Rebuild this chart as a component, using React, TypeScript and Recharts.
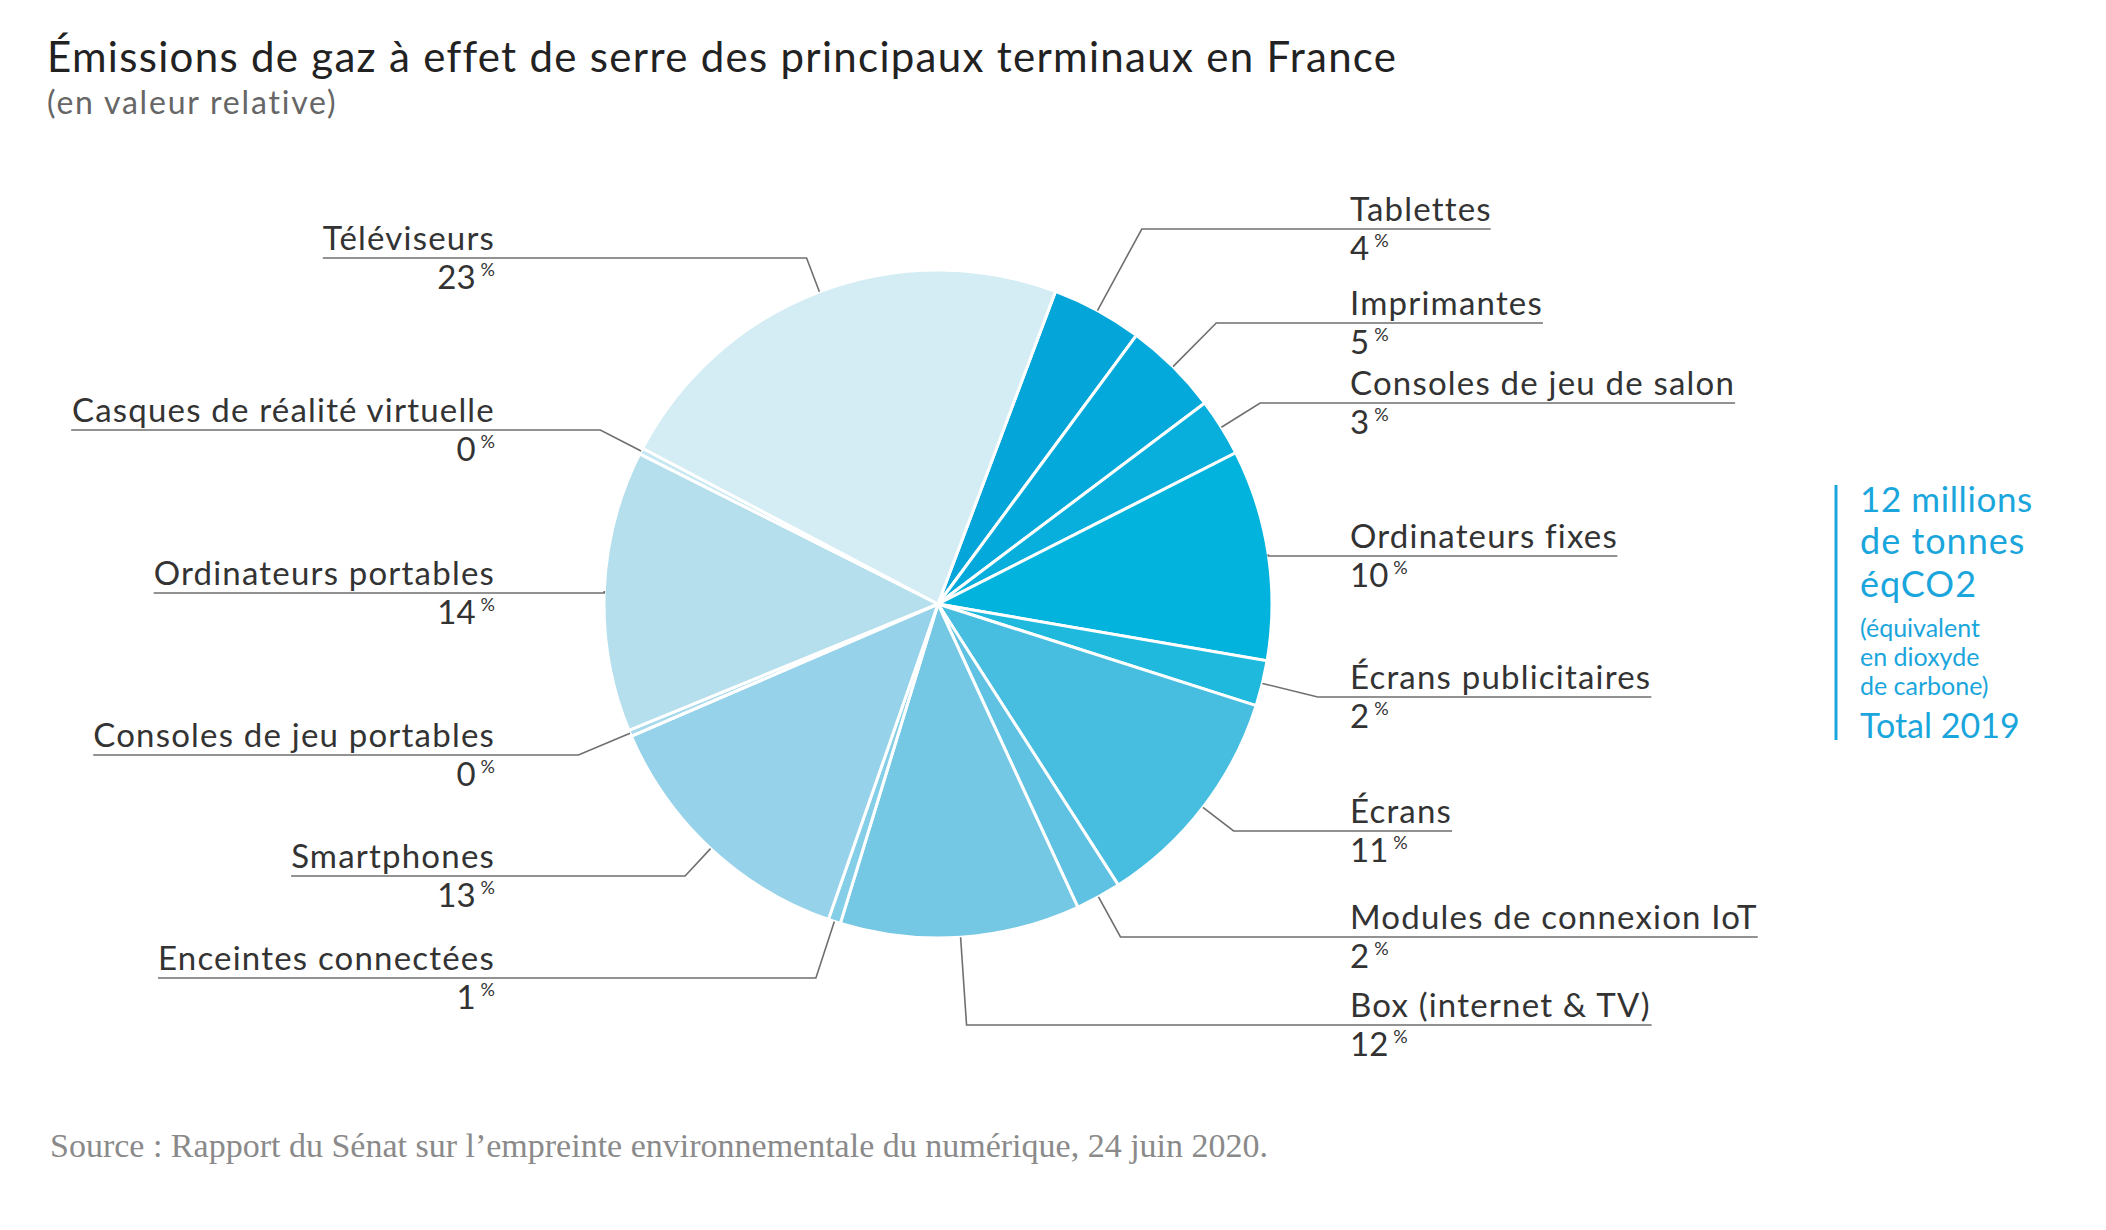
import React from 'react';
import { PieChart, Pie, Cell } from 'recharts';

// Émissions de GES des principaux terminaux (part en %)
const CATEGORIES = [
  'Tablettes',
  'Imprimantes',
  'Consoles de jeu de salon',
  'Ordinateurs fixes',
  'Écrans publicitaires',
  'Écrans',
  'Modules de connexion IoT',
  'Box (internet & TV)',
  'Enceintes connectées',
  'Smartphones',
  'Consoles de jeu portables',
  'Ordinateurs portables',
  'Casques de réalité virtuelle',
  'Téléviseurs',
];
const SHARES = [4.4, 4.6, 2.8, 10.2, 2.2, 11.0, 2.2, 11.6, 0.6, 13.2, 0.3, 13.6, 0.3, 23.0];
const COLORS = [
  '#04a5d8', '#03a9da', '#08afdc', '#02b4dd', '#1fb9de', '#47bde0', '#60c2e2',
  '#74c8e4', '#85cee7', '#96d2e9', '#a6d9ec', '#b5dfec', '#c5e7f1', '#d4edf4',
];

// position verticale du trait de chaque étiquette
const LABEL_Y = [229, 323, 403, 556, 697, 831, 937, 1025, 978, 876, 755, 593, 430, 258];

const W = 2106;
const H = 1230;
const CX = 938;
const CY = 604;
const R = 334;
const RIGHT_X = 1350;
const LEFT_X = 495;
const FONT = 'Lato, "Open Sans", sans-serif';
const LABEL_SIZE = 33;
const LABEL_LS = 1.2;
const RAD = Math.PI / 180;

const data = CATEGORIES.map((name, i) => ({ name, value: SHARES[i] }));

let ctx: CanvasRenderingContext2D | null = null;
const textWidth = (t: string) => {
  if (!ctx) ctx = document.createElement('canvas').getContext('2d');
  if (!ctx) return t.length * LABEL_SIZE * 0.55;
  ctx.font = `${LABEL_SIZE}px Lato`;
  return ctx.measureText(t).width + t.length * LABEL_LS;
};

const renderLabel = (props: any) => {
  const { cx, cy, midAngle, outerRadius, index } = props;
  const name = CATEGORIES[index];
  const pct = Math.round(SHARES[index]);
  const dx = Math.cos(-midAngle * RAD);
  const dy = Math.sin(-midAngle * RAD);
  const px = cx + outerRadius * dx;
  const py = cy + outerRadius * dy;
  const ly = LABEL_Y[index];
  let t = Math.abs(dy) > 0.05 ? (ly - py) / dy : 0;
  if (t < 0) t = 0;
  const ex = px + t * dx;
  const right = dx > 0;
  const tw = textWidth(name);
  const lineEnd = right ? RIGHT_X + tw : LEFT_X - tw;
  const tx = right ? RIGHT_X : LEFT_X;
  const anchor = right ? 'start' : 'end';
  return (
    <g key={`lbl-${index}`}>
      <polyline
        points={`${px},${py} ${ex},${ly} ${lineEnd},${ly}`}
        fill="none"
        stroke="#6f6f6f"
        strokeWidth={1.6}
      />
      <text x={tx} y={ly - 8} textAnchor={anchor} fontFamily={FONT} fontSize={LABEL_SIZE}
        letterSpacing={LABEL_LS} fill="#333">
        {name}
      </text>
      <text x={tx} y={ly + 31} textAnchor={anchor} fontFamily={FONT} fontSize={LABEL_SIZE} fill="#333">
        <tspan>{pct}</tspan>
        <tspan dx={5} dy={-13} fontSize={18}>%</tspan>
      </text>
    </g>
  );
};

export default function App() {
  const blue = '#1aa6dc';
  return (
    <div style={{ position: 'absolute', left: 0, top: 0, width: W, height: H, background: '#fff' }}>
      <PieChart width={W} height={H} margin={{ top: 0, right: 0, bottom: 0, left: 0 }}>
        <Pie
          data={data}
          dataKey="value"
          nameKey="name"
          cx={CX}
          cy={CY}
          outerRadius={R}
          startAngle={69.4}
          endAngle={-290.6}
          stroke="#fff"
          strokeWidth={3}
          label={renderLabel}
          labelLine={false}
          isAnimationActive={false}
        >
          {data.map((_, i) => (
            <Cell key={i} fill={COLORS[i]} />
          ))}
        </Pie>
      </PieChart>
      <svg width={W} height={H} style={{ position: 'absolute', left: 0, top: 0, pointerEvents: 'none' }}>
        <text x={47} y={72} fontFamily={FONT} fontSize={42} letterSpacing={1.3} fill="#222">
          Émissions de gaz à effet de serre des principaux terminaux en France
        </text>
        <text x={47} y={114} fontFamily={FONT} fontSize={32} letterSpacing={1.8} fill="#666">
          (en valeur relative)
        </text>
        <line x1={1836} y1={485} x2={1836} y2={740} stroke={blue} strokeWidth={3} />
        <g fontFamily={FONT} fill={blue}>
          <text x={1860} y={512} fontSize={35} letterSpacing={0.6}>12 millions</text>
          <text x={1860} y={554} fontSize={36} letterSpacing={1}>de tonnes</text>
          <text x={1860} y={597} fontSize={36} letterSpacing={1}>éqCO2</text>
          <text x={1860} y={637} fontSize={25}>(équivalent</text>
          <text x={1860} y={666} fontSize={25}>en dioxyde</text>
          <text x={1860} y={695} fontSize={25}>de carbone)</text>
          <text x={1860} y={738} fontSize={34}>Total 2019</text>
        </g>
        <text x={50} y={1157} fontFamily='"Liberation Serif", serif' fontSize={34} fill="#8a8a8a">
          Source : Rapport du Sénat sur l’empreinte environnementale du numérique, 24 juin 2020.
        </text>
      </svg>
    </div>
  );
}
